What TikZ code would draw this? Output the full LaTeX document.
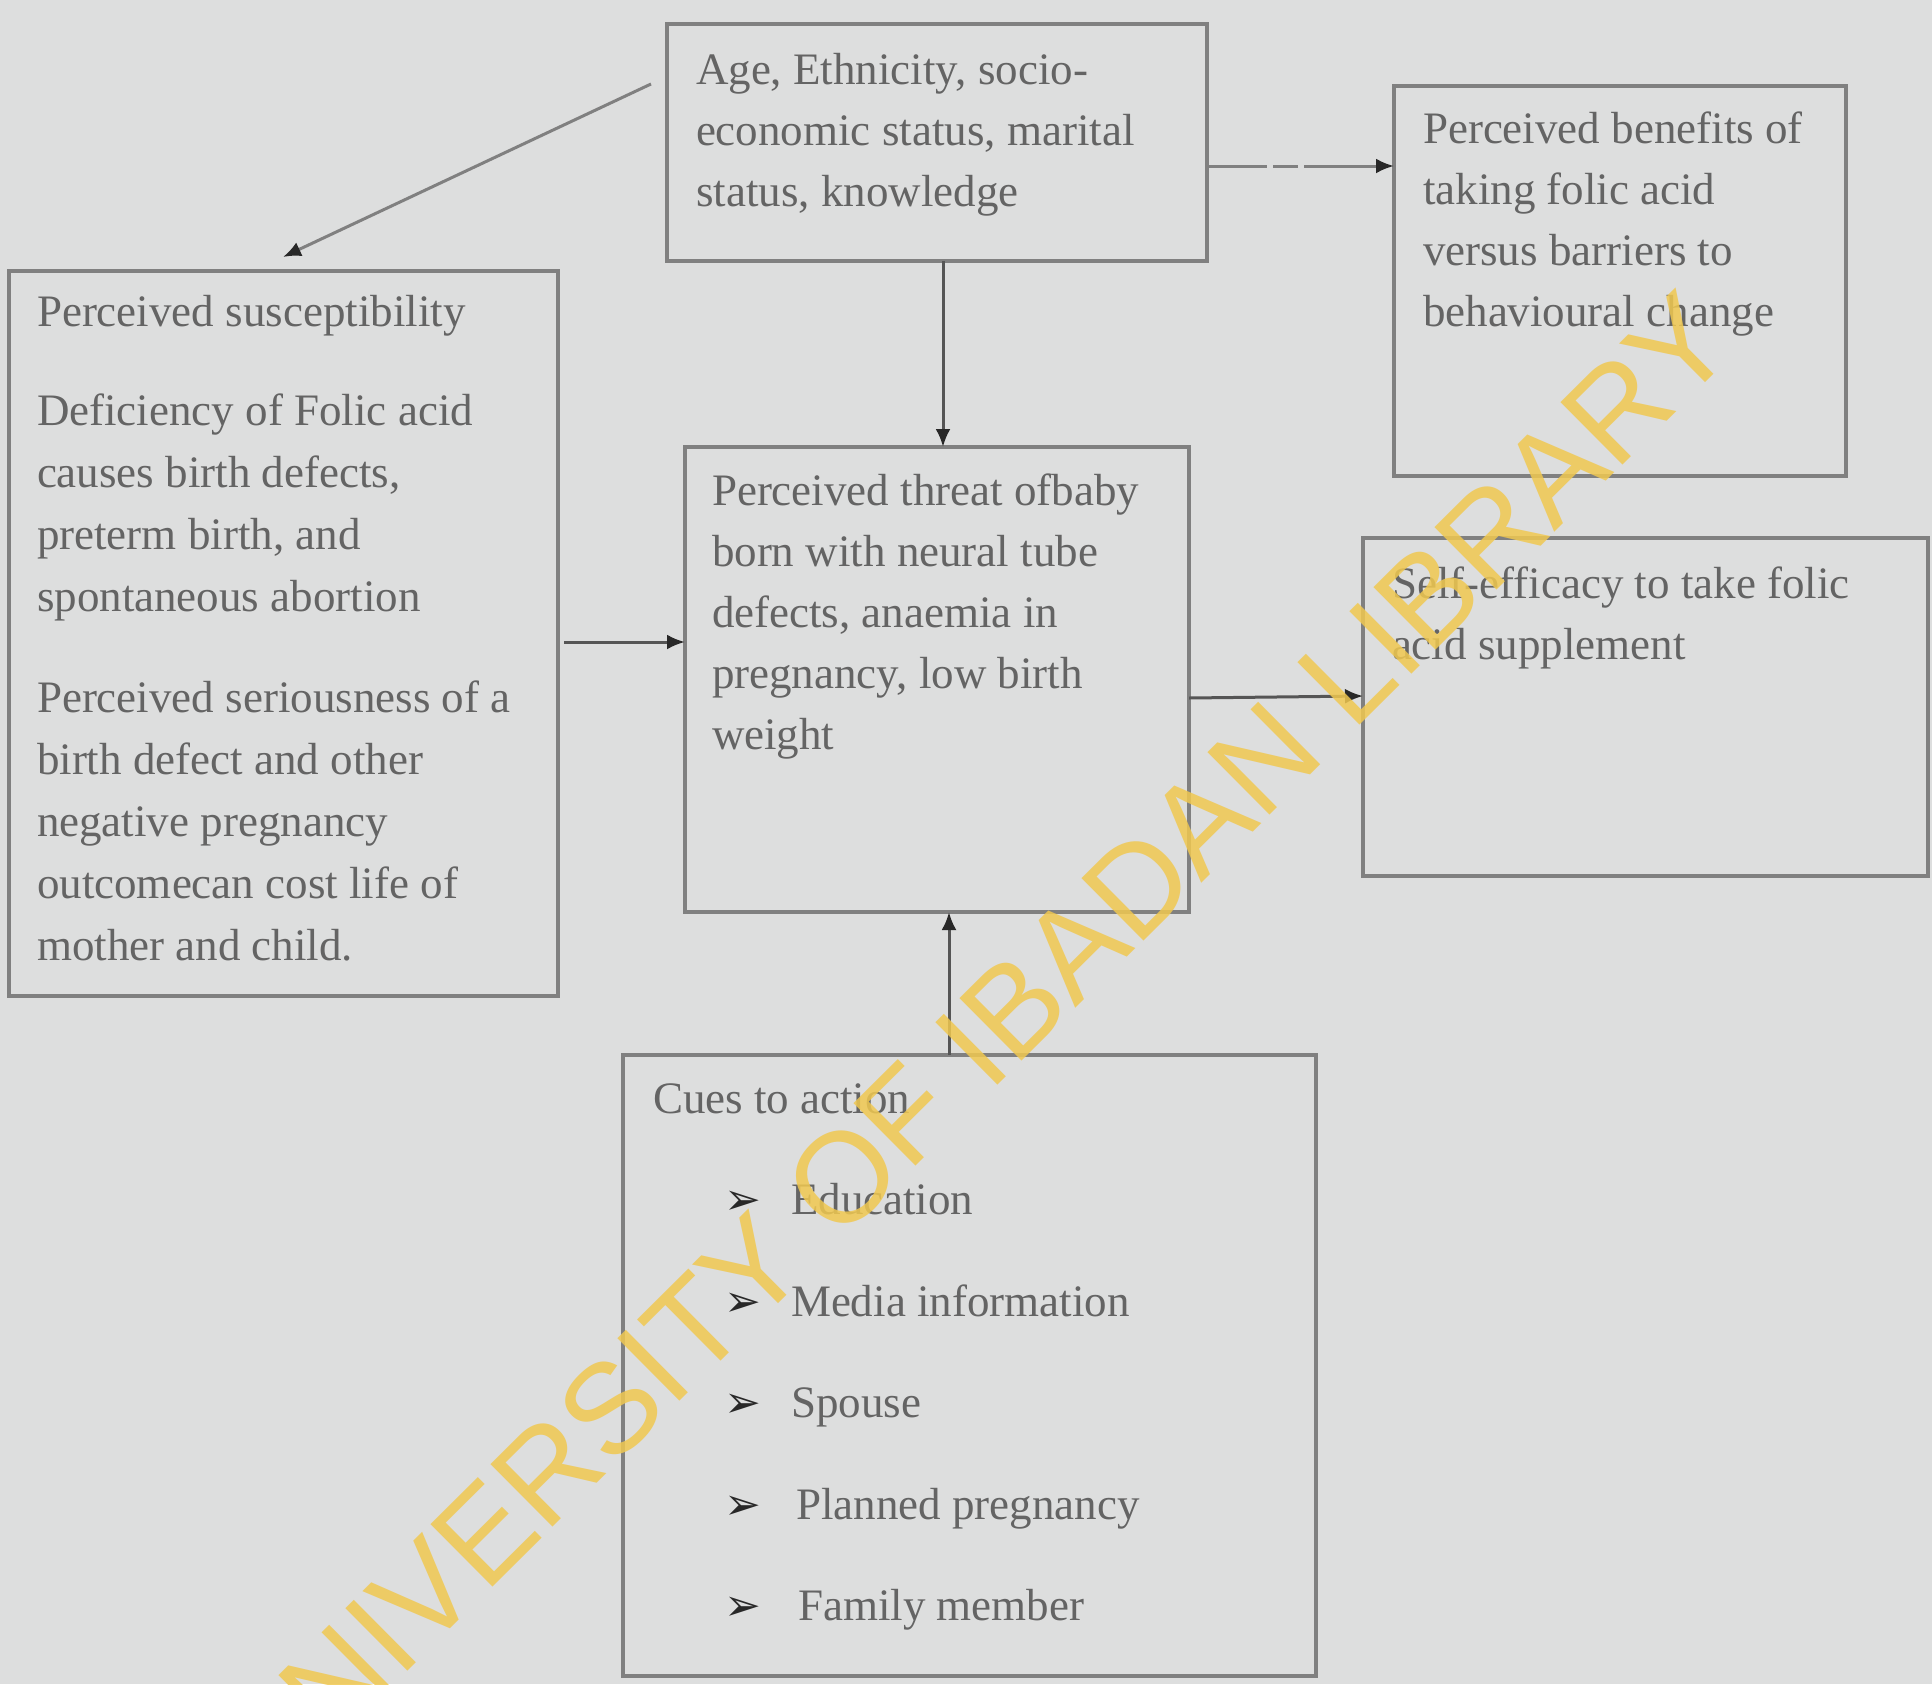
\documentclass[tikz,border=0pt]{standalone}
\usepackage{fontspec}
\setmainfont{Liberation Serif}
\newfontfamily\symfont{DejaVu Sans}
\newfontfamily\wmfont{Liberation Sans}
\usetikzlibrary{arrows.meta,calc}
\definecolor{bg}{RGB}{221,222,222}
\definecolor{boxline}{RGB}{128,128,128}
\definecolor{txtc}{RGB}{100,100,100}
\definecolor{arrc}{RGB}{85,85,85}
\definecolor{headc}{RGB}{40,40,40}
\definecolor{wmc}{RGB}{240,200,80}
\begin{document}
\begin{tikzpicture}[x=1pt,y=-1pt,
  box/.style={draw=boxline, line width=4pt, fill=bg, inner sep=0pt, outer sep=0pt, anchor=north west},
  txt/.style={text=txtc, font=\fontsize{45}{61}\selectfont, inner sep=0pt, outer sep=0pt, align=left, anchor=north west},
  linetxt/.style={text=txtc, font=\fontsize{45}{61}\selectfont, inner sep=0pt, outer sep=0pt, anchor=base west},
  bul/.style={text=headc, font=\symfont\fontsize{44}{44}\selectfont, inner sep=0pt, outer sep=0pt, anchor=base west},
  arr/.style={draw=arrc, line width=3pt, -{Latex[length=18pt,width=15pt,color=headc]}},
]
\useasboundingbox (0,0) rectangle (1932,1684);
\fill[bg] (0,0) rectangle (1932,1684);

% boxes
\node[box, minimum width=540pt, minimum height=237pt] (top) at (667,24) {};
\node[box, minimum width=549pt, minimum height=725pt] (left) at (9,271) {};
\node[box, minimum width=504pt, minimum height=465pt] (mid) at (685,447) {};
\node[box, minimum width=452pt, minimum height=390pt] (tr) at (1394,86) {};
\node[box, minimum width=565pt, minimum height=338pt] (rt) at (1363,538) {};
\node[box, minimum width=693pt, minimum height=621pt] (bot) at (623,1055) {};

% texts
\node[txt] (toptxt) at (696,53) {Age, Ethnicity, socio-\\economic status, marital\\status, knowledge};
\node[txt, font=\fontsize{45}{62}\selectfont] (lefttxt) at (37,295) {Perceived susceptibility\\[37pt]
Deficiency of Folic acid\\causes birth defects,\\preterm birth, and\\spontaneous abortion\\[39pt]
Perceived seriousness of a\\birth defect and other\\negative pregnancy\\outcomecan cost life of\\mother and child.};
\node[txt] (midtxt) at (712,474) {Perceived threat ofbaby\\born with neural tube\\defects, anaemia in\\pregnancy, low birth\\weight};
\node[txt] (trtxt) at (1423,112) {Perceived benefits of\\taking folic acid\\versus barriers to\\behavioural change};
\node[txt] (rttxt) at (1392,567) {Self-efficacy to take folic\\acid supplement};
\node[linetxt] (bottitle) at (653,1113) {Cues to action};
\foreach \t/\k/\dx in {Education/1/0, Media information/2/0, Spouse/3/0, Planned pregnancy/4/5, Family member/5/7} {
  \node[bul] (bul\k) at (724,{1113+101.5*\k}) {➢};
  \node[linetxt] (item\k) at ({791+\dx},{1113+101.5*\k}) {\t};
}

% connectors
\coordinate (a1s) at (651,84);
\coordinate (a1e) at (283,257);
\draw[arr, draw=boxline] (a1s) -- (a1e);
\draw[arr] (943,0 |- top.south) -- (943,0 |- mid.north);
\draw[arr, draw=boxline, dash pattern=on 60pt off 6pt on 25pt off 6pt on 200pt] (top.east |- 0,166) -- (tr.west |- 0,166);
\draw[arr] ([xshift=6pt]left.east |- 0,642) -- (mid.west |- 0,642);
\draw[arr] (mid.east |- 0,698) -- (rt.west |- 0,696);
\draw[arr] (949,0 |- bot.north) -- (949,0 |- mid.south);

% watermark
\node[rotate=44.8, font=\wmfont\fontsize{128}{128}\selectfont, text=wmc, opacity=0.85, inner sep=0pt] (wm) at (973,1048) {UNIVERSITY OF IBADAN LIBRARY};
\end{tikzpicture}
\end{document}
